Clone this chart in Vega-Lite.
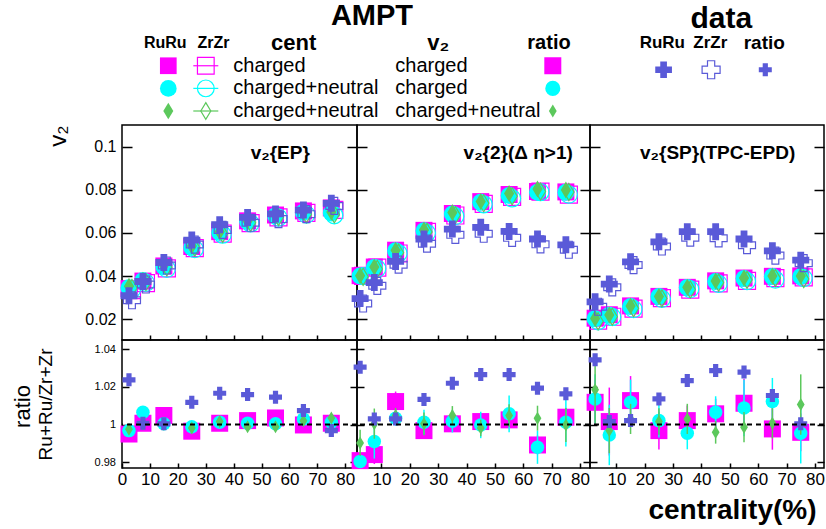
{
"$schema":"https://vega.github.io/schema/vega-lite/v6.json",
"background":"white",
"padding":{"left":10,"top":0,"right":0,"bottom":0},
"config":{"font":"Liberation Sans","view":{"stroke":"black","strokeWidth":1.5},"mark":{"opacity":1},"axis":{"labelColor":"black","titleColor":"black","tickColor":"black","tickWidth":1.5,"domain":false,"grid":false,"labelFlush":false},"text":{"color":"black"},"concat":{"spacing":0}},
"datasets":{
"v2":[
{"p":"EP","x":2.5,"sR":0.0342,"sZ":0.0344,"cR":0.0346,"cZ":0.0347,"dR":0.0353,"dZ":0.0354,"xR":0.0309,"xZ":0.0302},
{"p":"EP","x":7.5,"sR":0.0377,"sZ":0.0377,"cR":0.0380,"cZ":0.0378,"dR":0.0381,"dZ":0.0381,"xR":0.0375,"xZ":0.0375},
{"p":"EP","x":15,"sR":0.0447,"sZ":0.0445,"cR":0.0443,"cZ":0.0443,"dR":0.0450,"dZ":0.0450,"xR":0.0463,"xZ":0.0463},
{"p":"EP","x":25,"sR":0.0537,"sZ":0.0539,"cR":0.0533,"cZ":0.0534,"dR":0.0540,"dZ":0.0541,"xR":0.0567,"xZ":0.0560},
{"p":"EP","x":35,"sR":0.0606,"sZ":0.0606,"cR":0.0602,"cZ":0.0601,"dR":0.0606,"dZ":0.0605,"xR":0.0638,"xZ":0.0628},
{"p":"EP","x":45,"sR":0.0656,"sZ":0.0655,"cR":0.0653,"cZ":0.0653,"dR":0.0655,"dZ":0.0656,"xR":0.0672,"xZ":0.0661},
{"p":"EP","x":55,"sR":0.0683,"sZ":0.0681,"cR":0.0680,"cZ":0.0680,"dR":0.0682,"dZ":0.0683,"xR":0.0688,"xZ":0.0678},
{"p":"EP","x":65,"sR":0.0702,"sZ":0.0702,"cR":0.0696,"cZ":0.0694,"dR":0.0697,"dZ":0.0696,"xR":0.0706,"xZ":0.0701},
{"p":"EP","x":75,"sR":0.0716,"sZ":0.0716,"cR":0.0692,"cZ":0.0691,"dR":0.0697,"dZ":0.0695,"xR":0.0737,"xZ":0.0739},
{"p":"2","x":2.5,"sR":0.0402,"sZ":0.0410,"cR":0.0401,"cZ":0.0409,"dR":0.0402,"dZ":0.0406,"xR":0.0296,"xZ":0.0287},
{"p":"2","x":7.5,"sR":0.0442,"sZ":0.0449,"cR":0.0440,"cZ":0.0444,"dR":0.0442,"dZ":0.0442,"xR":0.0370,"xZ":0.0369},
{"p":"2","x":15,"sR":0.0520,"sZ":0.0514,"cR":0.0517,"cZ":0.0515,"dR":0.0520,"dZ":0.0518,"xR":0.0468,"xZ":0.0467},
{"p":"2","x":25,"sR":0.0612,"sZ":0.0614,"cR":0.0610,"cZ":0.0609,"dR":0.0614,"dZ":0.0614,"xR":0.0572,"xZ":0.0564},
{"p":"2","x":35,"sR":0.0690,"sZ":0.0690,"cR":0.0688,"cZ":0.0687,"dR":0.0695,"dZ":0.0692,"xR":0.0618,"xZ":0.0605},
{"p":"2","x":45,"sR":0.0745,"sZ":0.0744,"cR":0.0742,"cZ":0.0742,"dR":0.0746,"dZ":0.0747,"xR":0.0626,"xZ":0.0610},
{"p":"2","x":55,"sR":0.0778,"sZ":0.0776,"cR":0.0773,"cZ":0.0769,"dR":0.0783,"dZ":0.0779,"xR":0.0607,"xZ":0.0591},
{"p":"2","x":65,"sR":0.0792,"sZ":0.0801,"cR":0.0788,"cZ":0.0798,"dR":0.0804,"dZ":0.0801,"xR":0.0572,"xZ":0.0561},
{"p":"2","x":75,"sR":0.0790,"sZ":0.0787,"cR":0.0788,"cZ":0.0787,"dR":0.0799,"dZ":0.0799,"xR":0.0545,"xZ":0.0536},
{"p":"SP","x":2.5,"sR":0.0205,"sZ":0.0203,"cR":0.0203,"cZ":0.0200,"dR":0.0204,"dZ":0.0200,"xR":0.0281,"xZ":0.0272},
{"p":"SP","x":7.5,"sR":0.0221,"sZ":0.0221,"cR":0.0219,"cZ":0.0220,"dR":0.0220,"dZ":0.0221,"xR":0.0363,"xZ":0.0362},
{"p":"SP","x":15,"sR":0.0262,"sZ":0.0259,"cR":0.0259,"cZ":0.0256,"dR":0.0261,"dZ":0.0260,"xR":0.0466,"xZ":0.0465},
{"p":"SP","x":25,"sR":0.0306,"sZ":0.0307,"cR":0.0305,"cZ":0.0304,"dR":0.0306,"dZ":0.0306,"xR":0.0559,"xZ":0.0551},
{"p":"SP","x":35,"sR":0.0348,"sZ":0.0347,"cR":0.0347,"cZ":0.0349,"dR":0.0348,"dZ":0.0347,"xR":0.0606,"xZ":0.0592},
{"p":"SP","x":45,"sR":0.0378,"sZ":0.0376,"cR":0.0375,"cZ":0.0373,"dR":0.0377,"dZ":0.0379,"xR":0.0606,"xZ":0.0589},
{"p":"SP","x":55,"sR":0.0391,"sZ":0.0387,"cR":0.0389,"cZ":0.0386,"dR":0.0391,"dZ":0.0392,"xR":0.0572,"xZ":0.0557},
{"p":"SP","x":65,"sR":0.0399,"sZ":0.0400,"cR":0.0398,"cZ":0.0393,"dR":0.0400,"dZ":0.0400,"xR":0.0517,"xZ":0.0509},
{"p":"SP","x":75,"sR":0.0401,"sZ":0.0403,"cR":0.0398,"cZ":0.0400,"dR":0.0400,"dZ":0.0396,"xR":0.0474,"xZ":0.0474}
],
"ratio":[
{"p":"EP","x":2.5,"s":0.9950,"sE":0.0008,"c":0.9968,"cE":0.0008,"d":0.9975,"dE":0.0008,"q":1.0237,"qE":0.0005},
{"p":"EP","x":7.5,"s":1.0007,"sE":0.0008,"c":1.0065,"cE":0.0008,"d":1.0003,"dE":0.0008,"q":1.0007,"qE":0.0005},
{"p":"EP","x":15,"s":1.0048,"sE":0.0008,"c":1.0004,"cE":0.0008,"d":1.0002,"dE":0.0008,"q":1.0004,"qE":0.0005},
{"p":"EP","x":25,"s":0.9965,"sE":0.0008,"c":0.9989,"cE":0.0008,"d":0.9982,"dE":0.0008,"q":1.0118,"qE":0.0005},
{"p":"EP","x":35,"s":1.0007,"sE":0.0008,"c":1.0012,"cE":0.0008,"d":1.0016,"dE":0.0008,"q":1.0166,"qE":0.0005},
{"p":"EP","x":45,"s":1.0021,"sE":0.0008,"c":1.0007,"cE":0.0008,"d":0.9989,"dE":0.0008,"q":1.0159,"qE":0.0005},
{"p":"EP","x":55,"s":1.0035,"sE":0.0008,"c":1.0004,"cE":0.0008,"d":0.9989,"dE":0.0008,"q":1.0145,"qE":0.0005},
{"p":"EP","x":65,"s":0.9998,"sE":0.0008,"c":1.0030,"cE":0.0008,"d":1.0020,"dE":0.0008,"q":1.0074,"qE":0.0005},
{"p":"EP","x":75,"s":1.0007,"sE":0.0008,"c":1.0012,"cE":0.0008,"d":1.0035,"dE":0.0008,"q":0.9968,"qE":0.0005},
{"p":"2","x":2.5,"s":0.9809,"sE":0.003,"c":0.9805,"cE":0.003,"d":0.9903,"dE":0.007,"q":1.0304,"qE":0.001},
{"p":"2","x":7.5,"s":0.9841,"sE":0.005,"c":0.9910,"cE":0.009,"d":1.0005,"dE":0.008,"q":1.0030,"qE":0.001},
{"p":"2","x":15,"s":1.0122,"sE":0.0053,"c":1.0034,"cE":0.004,"d":1.0048,"dE":0.004,"q":1.0030,"qE":0.001},
{"p":"2","x":25,"s":0.9968,"sE":0.004,"c":1.0012,"cE":0.0066,"d":1.0004,"dE":0.006,"q":1.0133,"qE":0.001},
{"p":"2","x":35,"s":1.0004,"sE":0.004,"c":1.0018,"cE":0.006,"d":1.0048,"dE":0.005,"q":1.0219,"qE":0.001},
{"p":"2","x":45,"s":1.0016,"sE":0.004,"c":0.9998,"cE":0.007,"d":0.9982,"dE":0.0044,"q":1.0265,"qE":0.001},
{"p":"2","x":55,"s":1.0025,"sE":0.004,"c":1.0057,"cE":0.0097,"d":1.0048,"dE":0.006,"q":1.0265,"qE":0.001},
{"p":"2","x":65,"s":0.9892,"sE":0.005,"c":0.9880,"cE":0.0088,"d":1.0034,"dE":0.0066,"q":1.0193,"qE":0.001},
{"p":"2","x":75,"s":1.0039,"sE":0.005,"c":1.0012,"cE":0.0128,"d":0.9998,"dE":0.009,"q":1.0163,"qE":0.001},
{"p":"SP","x":2.5,"s":1.0118,"sE":0.012,"c":1.0136,"cE":0.013,"d":1.0184,"dE":0.018,"q":1.0343,"qE":0.001},
{"p":"SP","x":7.5,"s":1.0016,"sE":0.018,"c":0.9945,"cE":0.016,"d":0.9968,"dE":0.012,"q":1.0016,"qE":0.001},
{"p":"SP","x":15,"s":1.0127,"sE":0.013,"c":1.0118,"cE":0.012,"d":1.0030,"dE":0.008,"q":1.0021,"qE":0.001},
{"p":"SP","x":25,"s":0.9968,"sE":0.010,"c":1.0021,"cE":0.009,"d":1.0016,"dE":0.007,"q":1.0136,"qE":0.001},
{"p":"SP","x":35,"s":1.0021,"sE":0.008,"c":0.9954,"cE":0.0085,"d":1.0030,"dE":0.008,"q":1.0233,"qE":0.001},
{"p":"SP","x":45,"s":1.0057,"sE":0.008,"c":1.0065,"cE":0.0085,"d":0.9959,"dE":0.006,"q":1.0286,"qE":0.001},
{"p":"SP","x":55,"s":1.0113,"sE":0.013,"c":1.0088,"cE":0.015,"d":0.9986,"dE":0.008,"q":1.0278,"qE":0.001},
{"p":"SP","x":65,"s":0.9977,"sE":0.011,"c":1.0122,"cE":0.0125,"d":1.0007,"dE":0.008,"q":1.0154,"qE":0.001},
{"p":"SP","x":75,"s":0.9959,"sE":0.010,"c":0.9954,"cE":0.016,"d":1.0106,"dE":0.016,"q":1.0004,"qE":0.001}
]
},
"spacing":0,
"vconcat":[
{
"width":702,"height":124,
"view":{"stroke":null},
"layer":[
{"data":{"values":[{"t":"AMPT"}]},"mark":{"type":"text","fontSize":29,"fontWeight":"bold","dy":-4.5},"encoding":{"x":{"datum":371.7,"type":"quantitative","scale":{"domain":[121.7,823.7],"nice":false,"zero":false},"axis":null},"y":{"datum":"T","type":"nominal","scale":{"type":"point","domain":["T","H","R1","R2","R3"],"range":[20.5,111],"padding":0},"axis":null},"text":{"field":"t"}}},
{"data":{"values":[{"t":"data"}]},"mark":{"type":"text","fontSize":30,"fontWeight":"bold","dy":-2},"encoding":{"x":{"datum":721,"type":"quantitative","scale":{"domain":[121.7,823.7],"nice":false,"zero":false},"axis":null},"y":{"datum":"T","type":"nominal","scale":{"type":"point","domain":["T","H","R1","R2","R3"],"range":[20.5,111],"padding":0},"axis":null},"text":{"field":"t"}}},
{"data":{"values":[{"t":"RuRu"}]},"mark":{"type":"text","fontSize":16,"fontWeight":"bold"},"encoding":{"x":{"datum":165,"type":"quantitative","scale":{"domain":[121.7,823.7],"nice":false,"zero":false},"axis":null},"y":{"datum":"H","type":"nominal","scale":{"type":"point","domain":["T","H","R1","R2","R3"],"range":[20.5,111],"padding":0},"axis":null},"text":{"field":"t"}}},
{"data":{"values":[{"t":"ZrZr"}]},"mark":{"type":"text","fontSize":16,"fontWeight":"bold"},"encoding":{"x":{"datum":213.3,"type":"quantitative","scale":{"domain":[121.7,823.7],"nice":false,"zero":false},"axis":null},"y":{"datum":"H","type":"nominal","scale":{"type":"point","domain":["T","H","R1","R2","R3"],"range":[20.5,111],"padding":0},"axis":null},"text":{"field":"t"}}},
{"data":{"values":[{"t":"cent"}]},"mark":{"type":"text","fontSize":22,"fontWeight":"bold"},"encoding":{"x":{"datum":293.3,"type":"quantitative","scale":{"domain":[121.7,823.7],"nice":false,"zero":false},"axis":null},"y":{"datum":"H","type":"nominal","scale":{"type":"point","domain":["T","H","R1","R2","R3"],"range":[20.5,111],"padding":0},"axis":null},"text":{"field":"t"}}},
{"data":{"values":[{"t":"v₂"}]},"mark":{"type":"text","fontSize":22,"fontWeight":"bold"},"encoding":{"x":{"datum":438,"type":"quantitative","scale":{"domain":[121.7,823.7],"nice":false,"zero":false},"axis":null},"y":{"datum":"H","type":"nominal","scale":{"type":"point","domain":["T","H","R1","R2","R3"],"range":[20.5,111],"padding":0},"axis":null},"text":{"field":"t"}}},
{"data":{"values":[{"t":"ratio"}]},"mark":{"type":"text","fontSize":20,"fontWeight":"bold"},"encoding":{"x":{"datum":548.7,"type":"quantitative","scale":{"domain":[121.7,823.7],"nice":false,"zero":false},"axis":null},"y":{"datum":"H","type":"nominal","scale":{"type":"point","domain":["T","H","R1","R2","R3"],"range":[20.5,111],"padding":0},"axis":null},"text":{"field":"t"}}},
{"data":{"values":[{"t":"RuRu"}]},"mark":{"type":"text","fontSize":17,"fontWeight":"bold"},"encoding":{"x":{"datum":662,"type":"quantitative","scale":{"domain":[121.7,823.7],"nice":false,"zero":false},"axis":null},"y":{"datum":"H","type":"nominal","scale":{"type":"point","domain":["T","H","R1","R2","R3"],"range":[20.5,111],"padding":0},"axis":null},"text":{"field":"t"}}},
{"data":{"values":[{"t":"ZrZr"}]},"mark":{"type":"text","fontSize":17,"fontWeight":"bold"},"encoding":{"x":{"datum":710,"type":"quantitative","scale":{"domain":[121.7,823.7],"nice":false,"zero":false},"axis":null},"y":{"datum":"H","type":"nominal","scale":{"type":"point","domain":["T","H","R1","R2","R3"],"range":[20.5,111],"padding":0},"axis":null},"text":{"field":"t"}}},
{"data":{"values":[{"t":"ratio"}]},"mark":{"type":"text","fontSize":19,"fontWeight":"bold"},"encoding":{"x":{"datum":764,"type":"quantitative","scale":{"domain":[121.7,823.7],"nice":false,"zero":false},"axis":null},"y":{"datum":"H","type":"nominal","scale":{"type":"point","domain":["T","H","R1","R2","R3"],"range":[20.5,111],"padding":0},"axis":null},"text":{"field":"t"}}},
{"data":{"values":[{"r":"R1","k":"ch"},{"r":"R2","k":"cn"},{"r":"R3","k":"cn2"}]},"mark":{"type":"point","filled":true,"size":279},"encoding":{"x":{"datum":168,"type":"quantitative","scale":{"domain":[121.7,823.7],"nice":false,"zero":false},"axis":null},"y":{"field":"r","type":"nominal","scale":{"type":"point","domain":["T","H","R1","R2","R3"],"range":[20.5,111],"padding":0},"axis":null},"shape":{"field":"k","type":"nominal","scale":{"domain":["ch","cn","cn2"],"range":["square","circle","M0,-1L0.6,0L0,1L-0.6,0Z"]},"legend":null},"color":{"field":"k","type":"nominal","scale":{"domain":["ch","cn","cn2"],"range":["#ff00ff","#00ffff","#5cc85c"]},"legend":null}}},
{"data":{"values":[{"r":"R1","k":"ch"},{"r":"R2","k":"cn"},{"r":"R3","k":"cn2"}]},"mark":{"type":"rule","strokeWidth":1.2},"encoding":{"x":{"datum":193,"type":"quantitative","scale":{"domain":[121.7,823.7],"nice":false,"zero":false},"axis":null},"x2":{"datum":218},"y":{"field":"r","type":"nominal","scale":{"type":"point","domain":["T","H","R1","R2","R3"],"range":[20.5,111],"padding":0},"axis":null},"color":{"field":"k","type":"nominal","scale":{"domain":["ch","cn","cn2"],"range":["#ff00ff","#00ffff","#5cc85c"]},"legend":null}}},
{"data":{"values":[{"r":"R1","k":"ch"},{"r":"R2","k":"cn"},{"r":"R3","k":"cn2"}]},"mark":{"type":"point","filled":false,"size":279,"strokeWidth":1.2},"encoding":{"x":{"datum":205.5,"type":"quantitative","scale":{"domain":[121.7,823.7],"nice":false,"zero":false},"axis":null},"y":{"field":"r","type":"nominal","scale":{"type":"point","domain":["T","H","R1","R2","R3"],"range":[20.5,111],"padding":0},"axis":null},"shape":{"field":"k","type":"nominal","scale":{"domain":["ch","cn","cn2"],"range":["square","circle","M0,-1L0.6,0L0,1L-0.6,0Z"]},"legend":null},"color":{"field":"k","type":"nominal","scale":{"domain":["ch","cn","cn2"],"range":["#ff00ff","#00ffff","#5cc85c"]},"legend":null}}},
{"data":{"values":[{"r":"R1","t":"charged"},{"r":"R2","t":"charged+neutral"},{"r":"R3","t":"charged+neutral"}]},"mark":{"type":"text","fontSize":20,"align":"left"},"encoding":{"x":{"datum":233,"type":"quantitative","scale":{"domain":[121.7,823.7],"nice":false,"zero":false},"axis":null},"y":{"field":"r","type":"nominal","scale":{"type":"point","domain":["T","H","R1","R2","R3"],"range":[20.5,111],"padding":0},"axis":null},"text":{"field":"t"}}},
{"data":{"values":[{"r":"R1","t":"charged"},{"r":"R2","t":"charged"},{"r":"R3","t":"charged+neutral"}]},"mark":{"type":"text","fontSize":20,"align":"left"},"encoding":{"x":{"datum":395,"type":"quantitative","scale":{"domain":[121.7,823.7],"nice":false,"zero":false},"axis":null},"y":{"field":"r","type":"nominal","scale":{"type":"point","domain":["T","H","R1","R2","R3"],"range":[20.5,111],"padding":0},"axis":null},"text":{"field":"t"}}},
{"data":{"values":[{"r":"R1","k":"ch"},{"r":"R2","k":"cn"},{"r":"R3","k":"cn2"}]},"mark":{"type":"point","filled":true},"encoding":{"x":{"datum":552.5,"type":"quantitative","scale":{"domain":[121.7,823.7],"nice":false,"zero":false},"axis":null},"y":{"field":"r","type":"nominal","scale":{"type":"point","domain":["T","H","R1","R2","R3"],"range":[20.5,111],"padding":0},"axis":null},"shape":{"field":"k","type":"nominal","scale":{"domain":["ch","cn","cn2"],"range":["square","circle","M0,-1L0.6,0L0,1L-0.6,0Z"]},"legend":null},"color":{"field":"k","type":"nominal","scale":{"domain":["ch","cn","cn2"],"range":["#ff00ff","#00ffff","#5cc85c"]},"legend":null},"size":{"field":"k","type":"nominal","scale":{"domain":["ch","cn","cn2"],"range":[289,169,169]},"legend":null}}},
{"data":{"values":[{"r":"R1"}]},"mark":{"type":"point","shape":"cross","filled":true,"color":"#5a5ad8","size":279,"yOffset":4},"encoding":{"x":{"datum":663.3,"type":"quantitative","scale":{"domain":[121.7,823.7],"nice":false,"zero":false},"axis":null},"y":{"field":"r","type":"nominal","scale":{"type":"point","domain":["T","H","R1","R2","R3"],"range":[20.5,111],"padding":0},"axis":null}}},
{"data":{"values":[{"r":"R1"}]},"mark":{"type":"point","shape":"cross","filled":false,"color":"#5a5ad8","size":324,"strokeWidth":1.2,"yOffset":4},"encoding":{"x":{"datum":710.8,"type":"quantitative","scale":{"domain":[121.7,823.7],"nice":false,"zero":false},"axis":null},"y":{"field":"r","type":"nominal","scale":{"type":"point","domain":["T","H","R1","R2","R3"],"range":[20.5,111],"padding":0},"axis":null}}},
{"data":{"values":[{"r":"R1"}]},"mark":{"type":"point","shape":"cross","filled":true,"color":"#5a5ad8","size":169,"yOffset":4},"encoding":{"x":{"datum":765,"type":"quantitative","scale":{"domain":[121.7,823.7],"nice":false,"zero":false},"axis":null},"y":{"field":"r","type":"nominal","scale":{"type":"point","domain":["T","H","R1","R2","R3"],"range":[20.5,111],"padding":0},"axis":null}}}
]
},
{
"columns":3,
"spacing":0,
"bounds":"flush",
"align":"each",
"concat":[
{
"width":235,"height":215,
"data":{"name":"v2"},
"transform":[{"filter":"datum.p == 'EP'"}],
"layer":[
{"mark":{"type":"point","shape":"square","filled":true,"color":"#ff00ff","size":289},"encoding":{"x":{"field":"x","type":"quantitative","scale":{"domain":[0,84.2],"nice":false,"zero":false},"axis":{"orient":"bottom","values":[10,20,30,40,50,60,70,80],"labels":false,"tickSize":-5,"title":null}},"y":{"field":"sR","type":"quantitative","scale":{"domain":[0.0104,0.11],"nice":false,"zero":false},"axis":{"orient":"left","values":[0.02,0.04,0.06,0.08,0.1],"format":"~g","labelFontSize":16,"tickSize":-10,"labelPadding":16,"title":"v₂","titleFontSize":24,"titleFontWeight":"normal","titleX":-64,"titleY":0,"titleAngle":-90,"titleAlign":"right","titleBaseline":"middle"}}}},
{"mark":{"type":"point","shape":"square","filled":false,"color":"#ff00ff","size":289,"strokeWidth":1.2,"xOffset":3,"yOffset":2},"encoding":{"x":{"field":"x","type":"quantitative","scale":{"domain":[0,84.2],"nice":false,"zero":false},"axis":{"orient":"bottom","values":[10,20,30,40,50,60,70,80],"labels":false,"tickSize":-5,"title":null}},"y":{"field":"sZ","type":"quantitative","scale":{"domain":[0.0104,0.11],"nice":false,"zero":false},"axis":{"orient":"right","values":[0.02,0.04,0.06,0.08,0.1],"labels":false,"tickSize":-10,"title":null}}}},
{"mark":{"type":"point","shape":"circle","filled":true,"color":"#00ffff","size":289},"encoding":{"x":{"field":"x","type":"quantitative","scale":{"domain":[0,84.2],"nice":false,"zero":false},"axis":{"orient":"bottom","values":[10,20,30,40,50,60,70,80],"labels":false,"tickSize":-5,"title":null}},"y":{"field":"cR","type":"quantitative","scale":{"domain":[0.0104,0.11],"nice":false,"zero":false},"axis":null}}},
{"mark":{"type":"point","shape":"circle","filled":false,"color":"#00ffff","size":289,"strokeWidth":1.2,"xOffset":3,"yOffset":2},"encoding":{"x":{"field":"x","type":"quantitative","scale":{"domain":[0,84.2],"nice":false,"zero":false},"axis":{"orient":"bottom","values":[10,20,30,40,50,60,70,80],"labels":false,"tickSize":-5,"title":null}},"y":{"field":"cZ","type":"quantitative","scale":{"domain":[0.0104,0.11],"nice":false,"zero":false},"axis":null}}},
{"mark":{"type":"point","shape":"M0,-1L0.6,0L0,1L-0.6,0Z","filled":true,"color":"#5cc85c","size":289},"encoding":{"x":{"field":"x","type":"quantitative","scale":{"domain":[0,84.2],"nice":false,"zero":false},"axis":{"orient":"bottom","values":[10,20,30,40,50,60,70,80],"labels":false,"tickSize":-5,"title":null}},"y":{"field":"dR","type":"quantitative","scale":{"domain":[0.0104,0.11],"nice":false,"zero":false},"axis":null}}},
{"mark":{"type":"point","shape":"M0,-1L0.6,0L0,1L-0.6,0Z","filled":false,"color":"#5cc85c","size":289,"strokeWidth":1.2,"xOffset":3,"yOffset":2},"encoding":{"x":{"field":"x","type":"quantitative","scale":{"domain":[0,84.2],"nice":false,"zero":false},"axis":{"orient":"bottom","values":[10,20,30,40,50,60,70,80],"labels":false,"tickSize":-5,"title":null}},"y":{"field":"dZ","type":"quantitative","scale":{"domain":[0.0104,0.11],"nice":false,"zero":false},"axis":null}}},
{"mark":{"type":"point","shape":"cross","filled":false,"color":"#5a5ad8","size":289,"strokeWidth":1.2,"xOffset":3,"yOffset":3},"encoding":{"x":{"field":"x","type":"quantitative","scale":{"domain":[0,84.2],"nice":false,"zero":false},"axis":{"orient":"bottom","values":[10,20,30,40,50,60,70,80],"labels":false,"tickSize":-5,"title":null}},"y":{"field":"xZ","type":"quantitative","scale":{"domain":[0.0104,0.11],"nice":false,"zero":false},"axis":null}}},
{"mark":{"type":"point","shape":"cross","filled":true,"color":"#5a5ad8","size":289},"encoding":{"x":{"field":"x","type":"quantitative","scale":{"domain":[0,84.2],"nice":false,"zero":false},"axis":{"orient":"bottom","values":[10,20,30,40,50,60,70,80],"labels":false,"tickSize":-5,"title":null}},"y":{"field":"xR","type":"quantitative","scale":{"domain":[0.0104,0.11],"nice":false,"zero":false},"axis":null}}},
{"data":{"values":[{"p":"EP","t":"v₂{EP}"}]},"mark":{"type":"text","fontSize":19,"fontWeight":"bold"},"encoding":{"x":{"datum":56.7,"type":"quantitative","scale":{"domain":[0,84.2],"nice":false,"zero":false},"axis":{"orient":"bottom","values":[10,20,30,40,50,60,70,80],"labels":false,"tickSize":-5,"title":null}},"y":{"datum":0.0968,"type":"quantitative","scale":{"domain":[0.0104,0.11],"nice":false,"zero":false},"axis":null},"text":{"field":"t"}}}
],
"resolve":{"axis":{"y":"independent"}}
},
{
"width":233,"height":215,
"data":{"name":"v2"},
"transform":[{"filter":"datum.p == '2'"}],
"layer":[
{"mark":{"type":"point","shape":"square","filled":true,"color":"#ff00ff","size":289},"encoding":{"x":{"field":"x","type":"quantitative","scale":{"domain":[1.4,83.5],"nice":false,"zero":false},"axis":{"orient":"bottom","values":[10,20,30,40,50,60,70,80],"labels":false,"tickSize":-5,"title":null}},"y":{"field":"sR","type":"quantitative","scale":{"domain":[0.0104,0.11],"nice":false,"zero":false},"axis":{"orient":"left","values":[0.02,0.04,0.06,0.08,0.1],"labels":false,"tickSize":-10,"title":null}}}},
{"mark":{"type":"point","shape":"square","filled":false,"color":"#ff00ff","size":289,"strokeWidth":1.2,"xOffset":3,"yOffset":2},"encoding":{"x":{"field":"x","type":"quantitative","scale":{"domain":[1.4,83.5],"nice":false,"zero":false},"axis":{"orient":"bottom","values":[10,20,30,40,50,60,70,80],"labels":false,"tickSize":-5,"title":null}},"y":{"field":"sZ","type":"quantitative","scale":{"domain":[0.0104,0.11],"nice":false,"zero":false},"axis":{"orient":"right","values":[0.02,0.04,0.06,0.08,0.1],"labels":false,"tickSize":-10,"title":null}}}},
{"mark":{"type":"point","shape":"circle","filled":true,"color":"#00ffff","size":289},"encoding":{"x":{"field":"x","type":"quantitative","scale":{"domain":[1.4,83.5],"nice":false,"zero":false},"axis":{"orient":"bottom","values":[10,20,30,40,50,60,70,80],"labels":false,"tickSize":-5,"title":null}},"y":{"field":"cR","type":"quantitative","scale":{"domain":[0.0104,0.11],"nice":false,"zero":false},"axis":null}}},
{"mark":{"type":"point","shape":"circle","filled":false,"color":"#00ffff","size":289,"strokeWidth":1.2,"xOffset":3,"yOffset":2},"encoding":{"x":{"field":"x","type":"quantitative","scale":{"domain":[1.4,83.5],"nice":false,"zero":false},"axis":{"orient":"bottom","values":[10,20,30,40,50,60,70,80],"labels":false,"tickSize":-5,"title":null}},"y":{"field":"cZ","type":"quantitative","scale":{"domain":[0.0104,0.11],"nice":false,"zero":false},"axis":null}}},
{"mark":{"type":"point","shape":"M0,-1L0.6,0L0,1L-0.6,0Z","filled":true,"color":"#5cc85c","size":289},"encoding":{"x":{"field":"x","type":"quantitative","scale":{"domain":[1.4,83.5],"nice":false,"zero":false},"axis":{"orient":"bottom","values":[10,20,30,40,50,60,70,80],"labels":false,"tickSize":-5,"title":null}},"y":{"field":"dR","type":"quantitative","scale":{"domain":[0.0104,0.11],"nice":false,"zero":false},"axis":null}}},
{"mark":{"type":"point","shape":"M0,-1L0.6,0L0,1L-0.6,0Z","filled":false,"color":"#5cc85c","size":289,"strokeWidth":1.2,"xOffset":3,"yOffset":2},"encoding":{"x":{"field":"x","type":"quantitative","scale":{"domain":[1.4,83.5],"nice":false,"zero":false},"axis":{"orient":"bottom","values":[10,20,30,40,50,60,70,80],"labels":false,"tickSize":-5,"title":null}},"y":{"field":"dZ","type":"quantitative","scale":{"domain":[0.0104,0.11],"nice":false,"zero":false},"axis":null}}},
{"mark":{"type":"point","shape":"cross","filled":false,"color":"#5a5ad8","size":289,"strokeWidth":1.2,"xOffset":3,"yOffset":3},"encoding":{"x":{"field":"x","type":"quantitative","scale":{"domain":[1.4,83.5],"nice":false,"zero":false},"axis":{"orient":"bottom","values":[10,20,30,40,50,60,70,80],"labels":false,"tickSize":-5,"title":null}},"y":{"field":"xZ","type":"quantitative","scale":{"domain":[0.0104,0.11],"nice":false,"zero":false},"axis":null}}},
{"mark":{"type":"point","shape":"cross","filled":true,"color":"#5a5ad8","size":289},"encoding":{"x":{"field":"x","type":"quantitative","scale":{"domain":[1.4,83.5],"nice":false,"zero":false},"axis":{"orient":"bottom","values":[10,20,30,40,50,60,70,80],"labels":false,"tickSize":-5,"title":null}},"y":{"field":"xR","type":"quantitative","scale":{"domain":[0.0104,0.11],"nice":false,"zero":false},"axis":null}}},
{"data":{"values":[{"p":"2","t":"v₂{2}(Δ η>1)"}]},"mark":{"type":"text","fontSize":19,"fontWeight":"bold"},"encoding":{"x":{"datum":58.2,"type":"quantitative","scale":{"domain":[1.4,83.5],"nice":false,"zero":false},"axis":{"orient":"bottom","values":[10,20,30,40,50,60,70,80],"labels":false,"tickSize":-5,"title":null}},"y":{"datum":0.0972,"type":"quantitative","scale":{"domain":[0.0104,0.11],"nice":false,"zero":false},"axis":null},"text":{"field":"t"}}}
],
"resolve":{"axis":{"y":"independent"}}
},
{
"width":234,"height":215,
"data":{"name":"v2"},
"transform":[{"filter":"datum.p == 'SP'"}],
"layer":[
{"mark":{"type":"point","shape":"square","filled":true,"color":"#ff00ff","size":289},"encoding":{"x":{"field":"x","type":"quantitative","scale":{"domain":[0.7,83.2],"nice":false,"zero":false},"axis":{"orient":"bottom","values":[10,20,30,40,50,60,70,80],"labels":false,"tickSize":-5,"title":null}},"y":{"field":"sR","type":"quantitative","scale":{"domain":[0.0104,0.11],"nice":false,"zero":false},"axis":{"orient":"left","values":[0.02,0.04,0.06,0.08,0.1],"labels":false,"tickSize":-10,"title":null}}}},
{"mark":{"type":"point","shape":"square","filled":false,"color":"#ff00ff","size":289,"strokeWidth":1.2,"xOffset":3,"yOffset":2},"encoding":{"x":{"field":"x","type":"quantitative","scale":{"domain":[0.7,83.2],"nice":false,"zero":false},"axis":{"orient":"bottom","values":[10,20,30,40,50,60,70,80],"labels":false,"tickSize":-5,"title":null}},"y":{"field":"sZ","type":"quantitative","scale":{"domain":[0.0104,0.11],"nice":false,"zero":false},"axis":{"orient":"right","values":[0.02,0.04,0.06,0.08,0.1],"labels":false,"tickSize":-10,"title":null}}}},
{"mark":{"type":"point","shape":"circle","filled":true,"color":"#00ffff","size":289},"encoding":{"x":{"field":"x","type":"quantitative","scale":{"domain":[0.7,83.2],"nice":false,"zero":false},"axis":{"orient":"bottom","values":[10,20,30,40,50,60,70,80],"labels":false,"tickSize":-5,"title":null}},"y":{"field":"cR","type":"quantitative","scale":{"domain":[0.0104,0.11],"nice":false,"zero":false},"axis":null}}},
{"mark":{"type":"point","shape":"circle","filled":false,"color":"#00ffff","size":289,"strokeWidth":1.2,"xOffset":3,"yOffset":2},"encoding":{"x":{"field":"x","type":"quantitative","scale":{"domain":[0.7,83.2],"nice":false,"zero":false},"axis":{"orient":"bottom","values":[10,20,30,40,50,60,70,80],"labels":false,"tickSize":-5,"title":null}},"y":{"field":"cZ","type":"quantitative","scale":{"domain":[0.0104,0.11],"nice":false,"zero":false},"axis":null}}},
{"mark":{"type":"point","shape":"M0,-1L0.6,0L0,1L-0.6,0Z","filled":true,"color":"#5cc85c","size":289},"encoding":{"x":{"field":"x","type":"quantitative","scale":{"domain":[0.7,83.2],"nice":false,"zero":false},"axis":{"orient":"bottom","values":[10,20,30,40,50,60,70,80],"labels":false,"tickSize":-5,"title":null}},"y":{"field":"dR","type":"quantitative","scale":{"domain":[0.0104,0.11],"nice":false,"zero":false},"axis":null}}},
{"mark":{"type":"point","shape":"M0,-1L0.6,0L0,1L-0.6,0Z","filled":false,"color":"#5cc85c","size":289,"strokeWidth":1.2,"xOffset":3,"yOffset":2},"encoding":{"x":{"field":"x","type":"quantitative","scale":{"domain":[0.7,83.2],"nice":false,"zero":false},"axis":{"orient":"bottom","values":[10,20,30,40,50,60,70,80],"labels":false,"tickSize":-5,"title":null}},"y":{"field":"dZ","type":"quantitative","scale":{"domain":[0.0104,0.11],"nice":false,"zero":false},"axis":null}}},
{"mark":{"type":"point","shape":"cross","filled":false,"color":"#5a5ad8","size":289,"strokeWidth":1.2,"xOffset":3,"yOffset":3},"encoding":{"x":{"field":"x","type":"quantitative","scale":{"domain":[0.7,83.2],"nice":false,"zero":false},"axis":{"orient":"bottom","values":[10,20,30,40,50,60,70,80],"labels":false,"tickSize":-5,"title":null}},"y":{"field":"xZ","type":"quantitative","scale":{"domain":[0.0104,0.11],"nice":false,"zero":false},"axis":null}}},
{"mark":{"type":"point","shape":"cross","filled":true,"color":"#5a5ad8","size":289},"encoding":{"x":{"field":"x","type":"quantitative","scale":{"domain":[0.7,83.2],"nice":false,"zero":false},"axis":{"orient":"bottom","values":[10,20,30,40,50,60,70,80],"labels":false,"tickSize":-5,"title":null}},"y":{"field":"xR","type":"quantitative","scale":{"domain":[0.0104,0.11],"nice":false,"zero":false},"axis":null}}},
{"data":{"values":[{"p":"SP","t":"v₂{SP}(TPC-EPD)"}]},"mark":{"type":"text","fontSize":19,"fontWeight":"bold"},"encoding":{"x":{"datum":45.7,"type":"quantitative","scale":{"domain":[0.7,83.2],"nice":false,"zero":false},"axis":{"orient":"bottom","values":[10,20,30,40,50,60,70,80],"labels":false,"tickSize":-5,"title":null}},"y":{"datum":0.0972,"type":"quantitative","scale":{"domain":[0.0104,0.11],"nice":false,"zero":false},"axis":null},"text":{"field":"t"}}}
],
"resolve":{"axis":{"y":"independent"}}
},
{
"width":235,"height":128,
"data":{"name":"ratio"},
"transform":[{"filter":"datum.p == 'EP'"}],
"layer":[
{"mark":{"type":"errorbar","color":"#ff00ff","thickness":1.5},"encoding":{"x":{"field":"x","type":"quantitative","scale":{"domain":[0,84.2],"nice":false,"zero":false},"axis":{"orient":"bottom","values":[0,10,20,30,40,50,60,70,80],"labelFontSize":17,"labelFlush":false,"tickSize":-5,"labelPadding":8,"title":null}},"y":{"field":"s","type":"quantitative","scale":{"domain":[0.977,1.0448],"nice":false,"zero":false},"axis":null},"yError":{"field":"sE"}}},
{"mark":{"type":"point","shape":"square","filled":true,"color":"#ff00ff","size":289},"encoding":{"x":{"field":"x","type":"quantitative","scale":{"domain":[0,84.2],"nice":false,"zero":false},"axis":{"orient":"bottom","values":[0,10,20,30,40,50,60,70,80],"labelFontSize":17,"labelFlush":false,"tickSize":-5,"labelPadding":8,"title":null}},"y":{"field":"s","type":"quantitative","scale":{"domain":[0.977,1.0448],"nice":false,"zero":false},"axis":{"orient":"left","values":[0.98,1,1.02,1.04],"format":"~g","labelFontSize":11,"tickSize":-7,"labelPadding":13.5,"title":"Ru+Ru/Zr+Zr","titleFontSize":19,"titleFontWeight":"normal","titleX":-77,"titleY":64,"titleAngle":-90,"titleAlign":"center","titleBaseline":"middle"}}}},
{"mark":{"type":"errorbar","color":"#00ffff","thickness":1.5},"encoding":{"x":{"field":"x","type":"quantitative","scale":{"domain":[0,84.2],"nice":false,"zero":false},"axis":{"orient":"bottom","values":[0,10,20,30,40,50,60,70,80],"labelFontSize":17,"labelFlush":false,"tickSize":-5,"labelPadding":8,"title":null}},"y":{"field":"c","type":"quantitative","scale":{"domain":[0.977,1.0448],"nice":false,"zero":false},"axis":null},"yError":{"field":"cE"}}},
{"mark":{"type":"point","shape":"circle","filled":true,"color":"#00ffff","size":182},"encoding":{"x":{"field":"x","type":"quantitative","scale":{"domain":[0,84.2],"nice":false,"zero":false},"axis":{"orient":"bottom","values":[0,10,20,30,40,50,60,70,80],"labelFontSize":17,"labelFlush":false,"tickSize":-5,"labelPadding":8,"title":null}},"y":{"field":"c","type":"quantitative","scale":{"domain":[0.977,1.0448],"nice":false,"zero":false},"axis":{"orient":"right","values":[0.98,1,1.02,1.04],"labels":false,"tickSize":-7,"title":null}}}},
{"mark":{"type":"errorbar","color":"#5cc85c","thickness":1.5},"encoding":{"x":{"field":"x","type":"quantitative","scale":{"domain":[0,84.2],"nice":false,"zero":false},"axis":{"orient":"bottom","values":[0,10,20,30,40,50,60,70,80],"labelFontSize":17,"labelFlush":false,"tickSize":-5,"labelPadding":8,"title":null}},"y":{"field":"d","type":"quantitative","scale":{"domain":[0.977,1.0448],"nice":false,"zero":false},"axis":null},"yError":{"field":"dE"}}},
{"mark":{"type":"point","shape":"M0,-1L0.6,0L0,1L-0.6,0Z","filled":true,"color":"#5cc85c","size":169},"encoding":{"x":{"field":"x","type":"quantitative","scale":{"domain":[0,84.2],"nice":false,"zero":false},"axis":{"orient":"bottom","values":[0,10,20,30,40,50,60,70,80],"labelFontSize":17,"labelFlush":false,"tickSize":-5,"labelPadding":8,"title":null}},"y":{"field":"d","type":"quantitative","scale":{"domain":[0.977,1.0448],"nice":false,"zero":false},"axis":null}}},
{"mark":{"type":"errorbar","color":"#5a5ad8","thickness":1.5},"encoding":{"x":{"field":"x","type":"quantitative","scale":{"domain":[0,84.2],"nice":false,"zero":false},"axis":{"orient":"bottom","values":[0,10,20,30,40,50,60,70,80],"labelFontSize":17,"labelFlush":false,"tickSize":-5,"labelPadding":8,"title":null}},"y":{"field":"q","type":"quantitative","scale":{"domain":[0.977,1.0448],"nice":false,"zero":false},"axis":null},"yError":{"field":"qE"}}},
{"mark":{"type":"point","shape":"cross","filled":true,"color":"#5a5ad8","size":169},"encoding":{"x":{"field":"x","type":"quantitative","scale":{"domain":[0,84.2],"nice":false,"zero":false},"axis":{"orient":"bottom","values":[0,10,20,30,40,50,60,70,80],"labelFontSize":17,"labelFlush":false,"tickSize":-5,"labelPadding":8,"title":null}},"y":{"field":"q","type":"quantitative","scale":{"domain":[0.977,1.0448],"nice":false,"zero":false},"axis":null}}},
{"data":{"values":[{"p":"EP"}]},"mark":{"type":"rule","color":"black","strokeWidth":2,"strokeDash":[5,4]},"encoding":{"y":{"datum":1,"type":"quantitative","scale":{"domain":[0.977,1.0448],"nice":false,"zero":false},"axis":{"orient":"left","labels":false,"ticks":false,"title":"ratio","titleFontSize":22,"titleFontWeight":"normal","titleX":-100,"titleY":66,"titleAngle":-90,"titleAlign":"center","titleBaseline":"middle"}}}}
],
"resolve":{"axis":{"y":"independent"}}
},
{
"width":233,"height":128,
"data":{"name":"ratio"},
"transform":[{"filter":"datum.p == '2'"}],
"layer":[
{"mark":{"type":"errorbar","color":"#ff00ff","thickness":1.5},"encoding":{"x":{"field":"x","type":"quantitative","scale":{"domain":[1.4,83.5],"nice":false,"zero":false},"axis":{"orient":"bottom","values":[10,20,30,40,50,60,70,80],"labelFontSize":17,"labelFlush":false,"tickSize":-5,"labelPadding":8,"title":null}},"y":{"field":"s","type":"quantitative","scale":{"domain":[0.977,1.0448],"nice":false,"zero":false},"axis":null},"yError":{"field":"sE"}}},
{"mark":{"type":"point","shape":"square","filled":true,"color":"#ff00ff","size":289},"encoding":{"x":{"field":"x","type":"quantitative","scale":{"domain":[1.4,83.5],"nice":false,"zero":false},"axis":{"orient":"bottom","values":[10,20,30,40,50,60,70,80],"labelFontSize":17,"labelFlush":false,"tickSize":-5,"labelPadding":8,"title":null}},"y":{"field":"s","type":"quantitative","scale":{"domain":[0.977,1.0448],"nice":false,"zero":false},"axis":{"orient":"left","values":[0.98,1,1.02,1.04],"labels":false,"tickSize":-7,"title":null}}}},
{"mark":{"type":"errorbar","color":"#00ffff","thickness":1.5},"encoding":{"x":{"field":"x","type":"quantitative","scale":{"domain":[1.4,83.5],"nice":false,"zero":false},"axis":{"orient":"bottom","values":[10,20,30,40,50,60,70,80],"labelFontSize":17,"labelFlush":false,"tickSize":-5,"labelPadding":8,"title":null}},"y":{"field":"c","type":"quantitative","scale":{"domain":[0.977,1.0448],"nice":false,"zero":false},"axis":null},"yError":{"field":"cE"}}},
{"mark":{"type":"point","shape":"circle","filled":true,"color":"#00ffff","size":182},"encoding":{"x":{"field":"x","type":"quantitative","scale":{"domain":[1.4,83.5],"nice":false,"zero":false},"axis":{"orient":"bottom","values":[10,20,30,40,50,60,70,80],"labelFontSize":17,"labelFlush":false,"tickSize":-5,"labelPadding":8,"title":null}},"y":{"field":"c","type":"quantitative","scale":{"domain":[0.977,1.0448],"nice":false,"zero":false},"axis":{"orient":"right","values":[0.98,1,1.02,1.04],"labels":false,"tickSize":-7,"title":null}}}},
{"mark":{"type":"errorbar","color":"#5cc85c","thickness":1.5},"encoding":{"x":{"field":"x","type":"quantitative","scale":{"domain":[1.4,83.5],"nice":false,"zero":false},"axis":{"orient":"bottom","values":[10,20,30,40,50,60,70,80],"labelFontSize":17,"labelFlush":false,"tickSize":-5,"labelPadding":8,"title":null}},"y":{"field":"d","type":"quantitative","scale":{"domain":[0.977,1.0448],"nice":false,"zero":false},"axis":null},"yError":{"field":"dE"}}},
{"mark":{"type":"point","shape":"M0,-1L0.6,0L0,1L-0.6,0Z","filled":true,"color":"#5cc85c","size":169},"encoding":{"x":{"field":"x","type":"quantitative","scale":{"domain":[1.4,83.5],"nice":false,"zero":false},"axis":{"orient":"bottom","values":[10,20,30,40,50,60,70,80],"labelFontSize":17,"labelFlush":false,"tickSize":-5,"labelPadding":8,"title":null}},"y":{"field":"d","type":"quantitative","scale":{"domain":[0.977,1.0448],"nice":false,"zero":false},"axis":null}}},
{"mark":{"type":"errorbar","color":"#5a5ad8","thickness":1.5},"encoding":{"x":{"field":"x","type":"quantitative","scale":{"domain":[1.4,83.5],"nice":false,"zero":false},"axis":{"orient":"bottom","values":[10,20,30,40,50,60,70,80],"labelFontSize":17,"labelFlush":false,"tickSize":-5,"labelPadding":8,"title":null}},"y":{"field":"q","type":"quantitative","scale":{"domain":[0.977,1.0448],"nice":false,"zero":false},"axis":null},"yError":{"field":"qE"}}},
{"mark":{"type":"point","shape":"cross","filled":true,"color":"#5a5ad8","size":169},"encoding":{"x":{"field":"x","type":"quantitative","scale":{"domain":[1.4,83.5],"nice":false,"zero":false},"axis":{"orient":"bottom","values":[10,20,30,40,50,60,70,80],"labelFontSize":17,"labelFlush":false,"tickSize":-5,"labelPadding":8,"title":null}},"y":{"field":"q","type":"quantitative","scale":{"domain":[0.977,1.0448],"nice":false,"zero":false},"axis":null}}},
{"data":{"values":[{"p":"2"}]},"mark":{"type":"rule","color":"black","strokeWidth":2,"strokeDash":[5,4]},"encoding":{"y":{"datum":1,"type":"quantitative","scale":{"domain":[0.977,1.0448],"nice":false,"zero":false},"axis":null}}}
],
"resolve":{"axis":{"y":"independent"}}
},
{
"width":234,"height":128,
"data":{"name":"ratio"},
"transform":[{"filter":"datum.p == 'SP'"}],
"layer":[
{"mark":{"type":"errorbar","color":"#ff00ff","thickness":1.5},"encoding":{"x":{"field":"x","type":"quantitative","scale":{"domain":[0.7,83.2],"nice":false,"zero":false},"axis":{"orient":"bottom","values":[10,20,30,40,50,60,70,80],"labelFontSize":17,"labelFlush":false,"tickSize":-5,"labelPadding":8,"title":"centrality(%)","titleFontSize":28,"titleFontWeight":"bold","titleX":226,"titleY":50,"titleAlign":"right","titleBaseline":"alphabetic"}},"y":{"field":"s","type":"quantitative","scale":{"domain":[0.977,1.0448],"nice":false,"zero":false},"axis":null},"yError":{"field":"sE"}}},
{"mark":{"type":"point","shape":"square","filled":true,"color":"#ff00ff","size":289},"encoding":{"x":{"field":"x","type":"quantitative","scale":{"domain":[0.7,83.2],"nice":false,"zero":false},"axis":{"orient":"bottom","values":[10,20,30,40,50,60,70,80],"labelFontSize":17,"labelFlush":false,"tickSize":-5,"labelPadding":8,"title":"centrality(%)","titleFontSize":28,"titleFontWeight":"bold","titleX":226,"titleY":50,"titleAlign":"right","titleBaseline":"alphabetic"}},"y":{"field":"s","type":"quantitative","scale":{"domain":[0.977,1.0448],"nice":false,"zero":false},"axis":{"orient":"left","values":[0.98,1,1.02,1.04],"labels":false,"tickSize":-7,"title":null}}}},
{"mark":{"type":"errorbar","color":"#00ffff","thickness":1.5},"encoding":{"x":{"field":"x","type":"quantitative","scale":{"domain":[0.7,83.2],"nice":false,"zero":false},"axis":{"orient":"bottom","values":[10,20,30,40,50,60,70,80],"labelFontSize":17,"labelFlush":false,"tickSize":-5,"labelPadding":8,"title":"centrality(%)","titleFontSize":28,"titleFontWeight":"bold","titleX":226,"titleY":50,"titleAlign":"right","titleBaseline":"alphabetic"}},"y":{"field":"c","type":"quantitative","scale":{"domain":[0.977,1.0448],"nice":false,"zero":false},"axis":null},"yError":{"field":"cE"}}},
{"mark":{"type":"point","shape":"circle","filled":true,"color":"#00ffff","size":182},"encoding":{"x":{"field":"x","type":"quantitative","scale":{"domain":[0.7,83.2],"nice":false,"zero":false},"axis":{"orient":"bottom","values":[10,20,30,40,50,60,70,80],"labelFontSize":17,"labelFlush":false,"tickSize":-5,"labelPadding":8,"title":"centrality(%)","titleFontSize":28,"titleFontWeight":"bold","titleX":226,"titleY":50,"titleAlign":"right","titleBaseline":"alphabetic"}},"y":{"field":"c","type":"quantitative","scale":{"domain":[0.977,1.0448],"nice":false,"zero":false},"axis":{"orient":"right","values":[0.98,1,1.02,1.04],"labels":false,"tickSize":-7,"title":null}}}},
{"mark":{"type":"errorbar","color":"#5cc85c","thickness":1.5},"encoding":{"x":{"field":"x","type":"quantitative","scale":{"domain":[0.7,83.2],"nice":false,"zero":false},"axis":{"orient":"bottom","values":[10,20,30,40,50,60,70,80],"labelFontSize":17,"labelFlush":false,"tickSize":-5,"labelPadding":8,"title":"centrality(%)","titleFontSize":28,"titleFontWeight":"bold","titleX":226,"titleY":50,"titleAlign":"right","titleBaseline":"alphabetic"}},"y":{"field":"d","type":"quantitative","scale":{"domain":[0.977,1.0448],"nice":false,"zero":false},"axis":null},"yError":{"field":"dE"}}},
{"mark":{"type":"point","shape":"M0,-1L0.6,0L0,1L-0.6,0Z","filled":true,"color":"#5cc85c","size":169},"encoding":{"x":{"field":"x","type":"quantitative","scale":{"domain":[0.7,83.2],"nice":false,"zero":false},"axis":{"orient":"bottom","values":[10,20,30,40,50,60,70,80],"labelFontSize":17,"labelFlush":false,"tickSize":-5,"labelPadding":8,"title":"centrality(%)","titleFontSize":28,"titleFontWeight":"bold","titleX":226,"titleY":50,"titleAlign":"right","titleBaseline":"alphabetic"}},"y":{"field":"d","type":"quantitative","scale":{"domain":[0.977,1.0448],"nice":false,"zero":false},"axis":null}}},
{"mark":{"type":"errorbar","color":"#5a5ad8","thickness":1.5},"encoding":{"x":{"field":"x","type":"quantitative","scale":{"domain":[0.7,83.2],"nice":false,"zero":false},"axis":{"orient":"bottom","values":[10,20,30,40,50,60,70,80],"labelFontSize":17,"labelFlush":false,"tickSize":-5,"labelPadding":8,"title":"centrality(%)","titleFontSize":28,"titleFontWeight":"bold","titleX":226,"titleY":50,"titleAlign":"right","titleBaseline":"alphabetic"}},"y":{"field":"q","type":"quantitative","scale":{"domain":[0.977,1.0448],"nice":false,"zero":false},"axis":null},"yError":{"field":"qE"}}},
{"mark":{"type":"point","shape":"cross","filled":true,"color":"#5a5ad8","size":169},"encoding":{"x":{"field":"x","type":"quantitative","scale":{"domain":[0.7,83.2],"nice":false,"zero":false},"axis":{"orient":"bottom","values":[10,20,30,40,50,60,70,80],"labelFontSize":17,"labelFlush":false,"tickSize":-5,"labelPadding":8,"title":"centrality(%)","titleFontSize":28,"titleFontWeight":"bold","titleX":226,"titleY":50,"titleAlign":"right","titleBaseline":"alphabetic"}},"y":{"field":"q","type":"quantitative","scale":{"domain":[0.977,1.0448],"nice":false,"zero":false},"axis":null}}},
{"data":{"values":[{"p":"SP"}]},"mark":{"type":"rule","color":"black","strokeWidth":2,"strokeDash":[5,4]},"encoding":{"y":{"datum":1,"type":"quantitative","scale":{"domain":[0.977,1.0448],"nice":false,"zero":false},"axis":null}}}
],
"resolve":{"axis":{"y":"independent"}}
}
]
}
]
}
